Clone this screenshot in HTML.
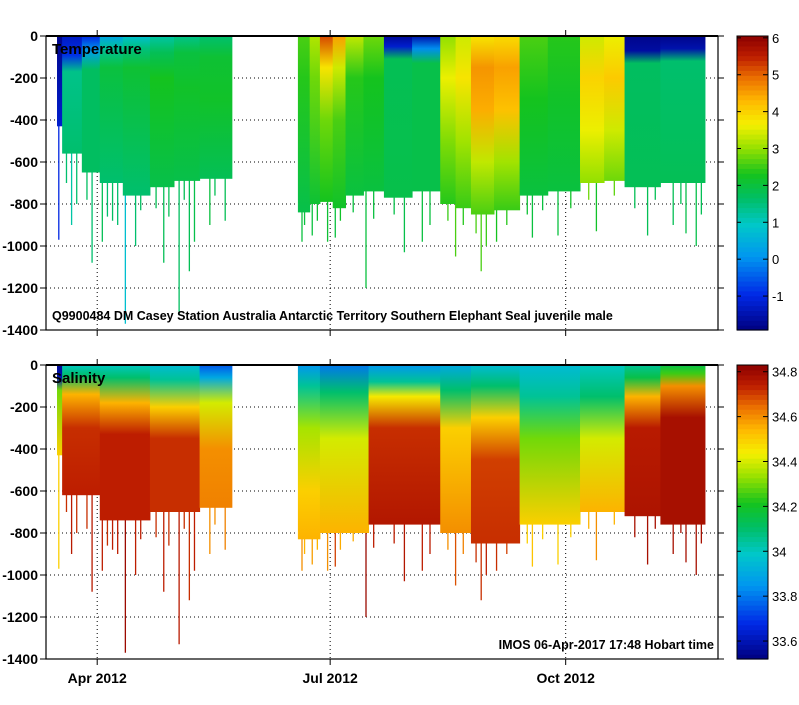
<!DOCTYPE html>
<html><head><meta charset="utf-8"><style>
body{margin:0;background:#fff;}
svg text{font-family:"Liberation Sans",sans-serif;}
</style></head><body>
<svg id="c" width="799" height="700" xmlns="http://www.w3.org/2000/svg"></svg>
<script>
// ---- data (days since 12-Mar-2012, depth in m) ----
const xTickLabels=["Apr 2012","Jul 2012","Oct 2012"];
const xTickDays=[20,111,203];
const yTicks=[0,-200,-400,-600,-800,-1000,-1200,-1400];
const tempTicks=[-1,0,1,2,3,4,5,6];
const salTicks=[33.6,33.8,34,34.2,34.4,34.6,34.8];
// temperature segments: start day, end day, max depth, profile [depth,value,...]
const tStart=[4.3,6.3,14,21,30,40.6,50,60,98.4,103,107,112,117,124,132,143,154,160,166,175,185,196,208.6,218,226,240];
const tEnd=[6.3,14,21,30,40.6,50,60,72.6,103,107,112,117,124,132,143,154,160,166,175,185,196,208.6,218,226,240,257.4];
const tMaxDepth=[430,560,650,700,760,720,690,680,840,800,790,820,760,740,770,740,800,820,850,830,760,740,700,690,720,700];
const tProfiles=[
 [0,-1.8,430,-1.2],
 [0,-1.3,90,-0.9,170,1.4,560,1.6],
 [0,-1.0,70,0.2,160,1.7,650,1.7],
 [0,0.3,60,1.3,150,2.0,700,1.6],
 [0,0.8,60,1.5,150,2.1,760,1.6],
 [0,1.2,80,1.8,200,2.3,720,1.9],
 [0,1.4,80,2.0,250,2.2,690,1.9],
 [0,1.6,100,2.1,300,2.2,680,1.8],
 [0,2.6,200,2.4,840,1.9],
 [0,3.2,200,2.8,800,2.1],
 [0,5.2,150,3.8,400,2.8,790,2.3],
 [0,4.5,150,3.4,400,2.6,820,2.2],
 [0,3.3,200,2.4,760,2.0],
 [0,2.8,200,2.3,740,2.0],
 [0,-1.7,50,-1.2,110,1.8,770,1.9],
 [0,-1.5,60,0.0,130,1.9,740,1.9],
 [0,3.0,200,3.6,500,2.9,800,2.4],
 [0,3.4,200,3.8,500,3.1,820,2.5],
 [0,3.8,150,4.6,350,4.4,600,3.3,850,2.6],
 [0,3.9,150,4.5,350,4.2,600,3.1,830,2.5],
 [0,2.6,300,2.3,760,2.0],
 [0,2.4,300,2.2,740,2.0],
 [0,3.4,200,4.0,450,3.6,700,3.0],
 [0,3.6,200,4.1,450,3.4,690,2.8],
 [0,-1.8,70,-1.6,130,1.7,720,1.8],
 [0,-1.8,60,-1.5,120,1.6,700,1.8]
];
// salinity segments
const sStart=[4.3,6.3,21,40.6,60,98.4,107,126,154,166,185,208.6,226,240];
const sEnd=[6.3,21,40.6,60,72.6,107,126,154,166,185,208.6,226,240,257.4];
const sMaxDepth=[430,620,740,700,680,830,800,760,800,850,760,700,720,760];
const sProfiles=[
 [0,33.55,60,33.6,120,34.3,430,34.5],
 [0,34.0,50,34.1,140,34.55,300,34.72,620,34.74],
 [0,34.0,60,34.1,180,34.55,330,34.74,740,34.74],
 [0,33.95,70,34.05,200,34.5,350,34.72,700,34.72],
 [0,33.75,60,33.9,180,34.4,400,34.6,680,34.62],
 [0,33.85,100,34.05,300,34.35,600,34.5,830,34.55],
 [0,33.8,130,34.1,350,34.4,800,34.55],
 [0,33.85,80,34.05,150,34.45,300,34.72,760,34.76],
 [0,33.9,120,34.1,300,34.5,800,34.6],
 [0,33.95,100,34.1,250,34.5,450,34.7,850,34.72],
 [0,33.95,150,34.05,350,34.3,760,34.5],
 [0,34.0,150,34.1,350,34.4,700,34.55],
 [0,34.05,60,34.15,150,34.55,300,34.75,720,34.77],
 [0,34.15,40,34.25,100,34.6,250,34.78,760,34.78]
];
// deep dive spikes: day, bottom depth
const spikeDays=[5,10,18,22,26,31,35,46,52,56,58,64,70,100,104,110,113,125,140,147,160,170,172,176,190,200,215,235,245,250,254,8,12,16,24,28,37,43,48,54,66,101,106,115,120,128,136,150,157,163,168,180,188,194,205,212,222,230,238,248,256];
const spikeDepth=[970,900,1080,980,880,1370,1000,1080,1330,1120,980,900,880,980,950,980,960,1200,1030,980,1050,1120,1000,980,960,950,930,950,900,940,1000,700,800,780,860,900,830,820,860,780,760,900,880,880,840,870,850,900,880,900,940,900,850,830,820,780,760,820,780,800,850];
const spikeT=[-1,1.2,1.6,1.8,1.7,0.8,1.6,1.8,1.7,1.8,1.9,2,1.8,2,2,2.1,2,2,1.9,2,2.6,2.6,2.5,2.3,2.0,2.0,2.2,1.8,1.8,1.9,1.9,1.6,1.6,1.7,1.6,1.6,1.7,1.8,1.8,1.8,1.8,2,2.1,2.2,2,2,1.9,2,2.5,2.4,2.6,2.4,2.1,2,2.2,2.8,2.7,1.8,1.8,1.8,1.8];
const spikeS=[34.5,34.75,34.75,34.74,34.74,34.8,34.74,34.74,34.75,34.72,34.74,34.6,34.62,34.6,34.58,34.6,34.7,34.8,34.76,34.74,34.68,34.72,34.74,34.72,34.52,34.5,34.6,34.78,34.78,34.78,34.78,34.72,34.72,34.72,34.72,34.74,34.74,34.72,34.72,34.72,34.6,34.55,34.55,34.56,34.56,34.74,34.74,34.74,34.6,34.62,34.72,34.7,34.5,34.5,34.5,34.55,34.55,34.78,34.78,34.78,34.78];

const NS="http://www.w3.org/2000/svg";
const svg=document.getElementById('c');
const X0=46,X1=718,PXD=2.56;
const xs=d=>X0+d*PXD;
function el(t,a,p){const e=document.createElementNS(NS,t);for(const k in a)e.setAttribute(k,a[k]);(p||svg).appendChild(e);return e;}
const stops=[[0,[0,0,127]],[0.12,[0,40,230]],[0.25,[0,150,240]],[0.36,[0,200,200]],[0.45,[0,190,100]],[0.53,[20,195,30]],[0.62,[150,225,0]],[0.7,[245,240,0]],[0.78,[255,185,0]],[0.86,[235,110,0]],[0.93,[190,30,0]],[1,[140,0,0]]];
function cmap(f){f=Math.max(0,Math.min(1,f));for(let i=1;i<stops.length;i++){if(f<=stops[i][0]){const a=stops[i-1],b=stops[i],t=(f-a[0])/(b[0]-a[0]);const c=a[1].map((v,j)=>Math.round(v+(b[1][j]-v)*t));return `rgb(${c})`;}}return 'rgb(140,0,0)';}
const defs=el('defs',{});
let gid=0;
function panel(top,title,vmin,vmax,ticks,starts,ends,maxd,profs,sd,sdep,sv,note,noteRight,cbName){
 const H=294,ys=d=>top+d/1400*H;
 const g=el('g',{});
 
 yTicks.forEach(v=>{if(v!==0&&v!==-1400)el('line',{x1:X0,x2:X1,y1:ys(-v),y2:ys(-v),stroke:'#000','stroke-dasharray':'1,3','stroke-width':1},g);});
 xTickDays.forEach(d=>el('line',{x1:xs(d),x2:xs(d),y1:top,y2:top+H,stroke:'#000','stroke-dasharray':'1,3'},g));
 const norm=v=>(v-vmin)/(vmax-vmin);
 sd.forEach((d,i)=>{const l=el('line',{x1:xs(d),x2:xs(d),y1:ys(200),y2:ys(sdep[i]),stroke:cmap(norm(sv[i])),'stroke-width':1.3},g);
  });
 starts.forEach((s,i)=>{
  const id='g'+(gid++),p=profs[i],md=maxd[i];
  const lg=el('linearGradient',{id:id,x1:0,y1:0,x2:0,y2:1},defs);
  for(let k=0;k<p.length;k+=2)el('stop',{offset:Math.min(1,p[k]/md),'stop-color':cmap(norm(p[k+1]))},lg);
  const r=el('rect',{x:xs(s),y:top,width:xs(ends[i])-xs(s)+0.5,height:ys(md)-top,fill:`url(#${id})`},g);
  
 });
 el('rect',{x:X0,y:top,width:X1-X0,height:H,fill:'none',stroke:'#000','stroke-width':1.2},g);
 el('line',{x1:X0,x2:X1,y1:top,y2:top,stroke:'#000','stroke-width':2},g);
 yTicks.forEach(v=>{const y=ys(-v);el('line',{x1:X0-6,x2:X0,y1:y,y2:y,stroke:'#000'},g);el('line',{x1:X1,x2:X1+6,y1:y,y2:y,stroke:'#000'},g);
  const t=el('text',{x:X0-8,y:y+5,'text-anchor':'end','font-size':14,'font-weight':'bold'},g);t.textContent=v;});
 xTickDays.forEach(d=>{el('line',{x1:xs(d),x2:xs(d),y1:top+H,y2:top+H+6,stroke:'#000'},g);el('line',{x1:xs(d),x2:xs(d),y1:top-6,y2:top,stroke:'#000'},g);});
 const tt=el('text',{x:52,y:top+18,'font-size':15,'font-weight':'bold'},g);tt.textContent=title;
 const nt=el('text',{x:noteRight?714:52,y:top+H-10,'font-size':12.5,'font-weight':'bold','text-anchor':noteRight?'end':'start'},g);nt.textContent=note;
 const cg=el('g',{});
 const N=60;for(let k=0;k<N;k++){el('rect',{x:737,y:top+H-(k+1)*H/N,width:31,height:H/N+0.6,fill:cmap((k+0.5)/N)},cg);}
 el('rect',{x:737,y:top,width:31,height:H,fill:'none',stroke:'#000'},cg);
 ticks.forEach(v=>{const y=top+H-norm(v)*H;el('line',{x1:763,x2:768,y1:y,y2:y,stroke:'#000'},cg);el('line',{x1:737,x2:741,y1:y,y2:y,stroke:'#000'},cg);
  const t=el('text',{x:772,y:y+5,'font-size':13},cg);t.textContent=String(v);});
}
panel(36,'Temperature',-1.92,6.05,tempTicks,tStart,tEnd,tMaxDepth,tProfiles,spikeDays,spikeDepth,spikeT,'Q9900484 DM Casey  Station Australia Antarctic Territory Southern Elephant Seal juvenile male',false,'temperature');
panel(365,'Salinity',33.52,34.83,salTicks,sStart,sEnd,sMaxDepth,sProfiles,spikeDays,spikeDepth,spikeS,'IMOS 06-Apr-2017 17:48 Hobart time',true,'salinity');
xTickDays.forEach((d,i)=>{const t=el('text',{x:xs(d),y:683,'text-anchor':'middle','font-size':14,'font-weight':'bold'});t.textContent=xTickLabels[i];
 
 });
</script>
</body></html>
